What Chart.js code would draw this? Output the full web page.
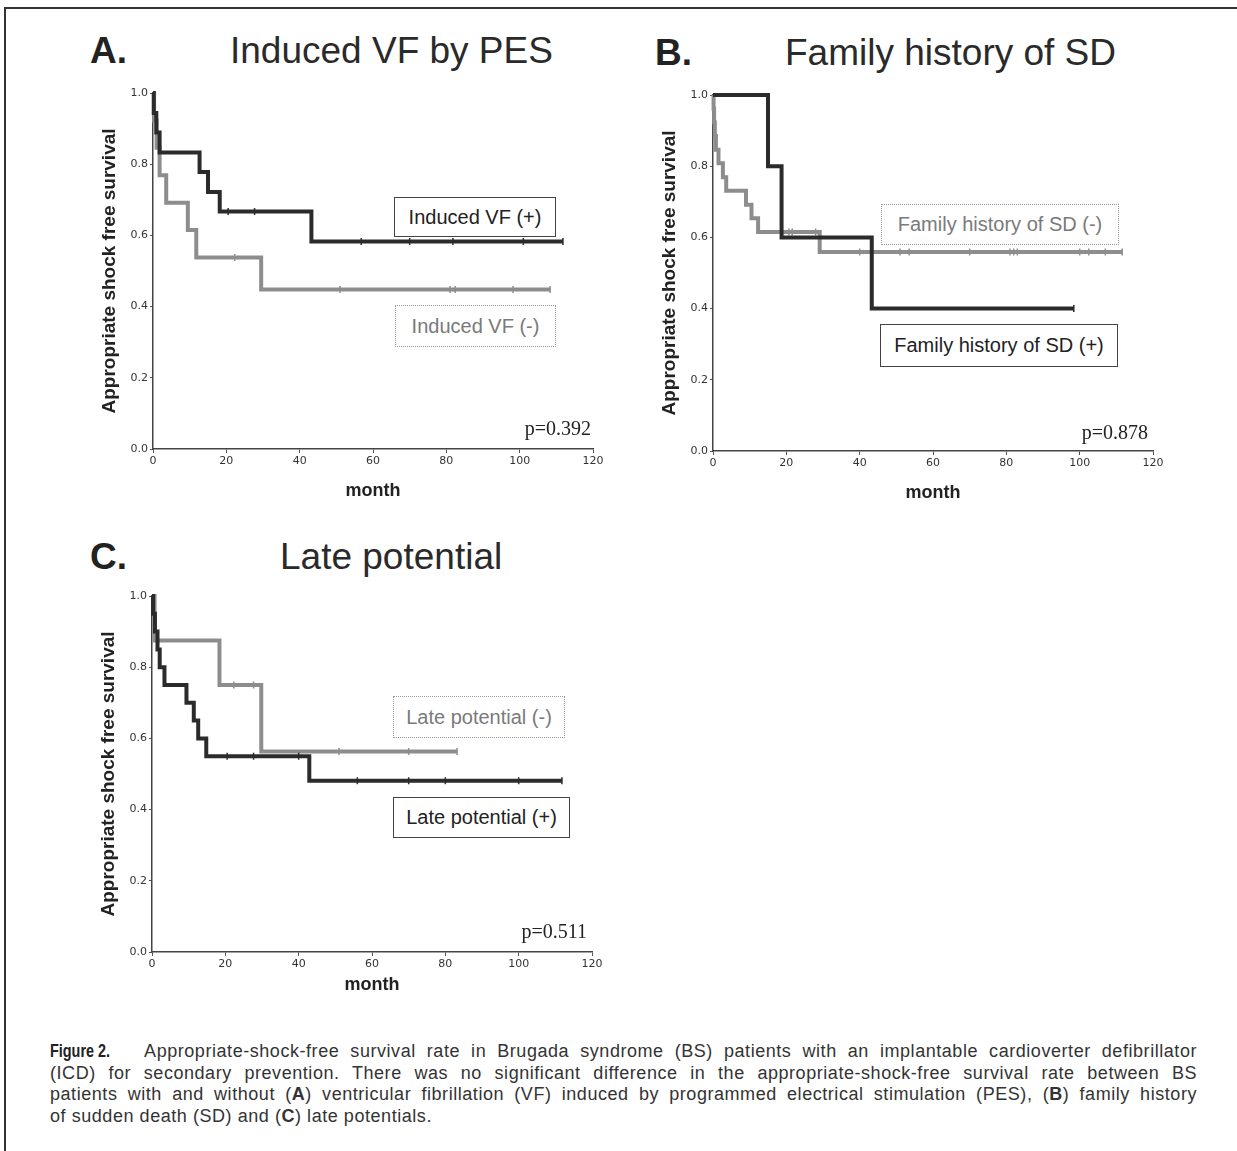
<!DOCTYPE html>
<html>
<head>
<meta charset="utf-8">
<script src="https://cdn.jsdelivr.net/npm/chart.js@4.4.0/dist/chart.umd.min.js"></script>
<style>
  body { margin: 0; width: 1237px; height: 1151px; background: #fff; position: relative; overflow: hidden;
         font-family: "Liberation Sans", Arial, sans-serif; color: #222; }
  .frame { position: absolute; left: 4px; top: 7px; width: 1240px; height: 1150px;
           border-top: 2px solid #333; border-left: 2px solid #333; }
  canvas { position: absolute; }
  .letter { position: absolute; font-size: 37px; font-weight: bold; line-height: 1; color: #222; }
  .title { position: absolute; font-size: 37px; line-height: 1; color: #2a2a2a; white-space: nowrap; }
  .box { position: absolute; box-sizing: border-box; font-size: 20px; display: flex;
         align-items: center; justify-content: center; white-space: nowrap; background: #fff; }
  .box.dark { border: 1px solid #444; color: #222; }
  .box.light { border: 1px dotted #999; color: #7a7a7a; }
  .pval { position: absolute; font-family: "Liberation Serif", "Times New Roman", serif; font-size: 20px;
          line-height: 1; text-align: right; color: #222; }
  .caption { position: absolute; left: 50px; top: 1041px; width: 1147px; font-size: 18px;
             letter-spacing: 0.55px; line-height: 21.5px; color: #333; }
  .caption div { text-align: justify; text-align-last: justify; white-space: nowrap; }
  .caption div.last { text-align-last: left; }
  .caption .fig { display: inline-block; font-weight: bold; color: #222; letter-spacing: 0;
                  transform: scaleX(0.8); transform-origin: left center; margin-right: 9px; }
</style>
</head>
<body>
<div class="frame"></div>

<div class="letter" style="left:90px;top:32px">A.</div>
<div class="title" style="left:230px;top:32px">Induced VF by PES</div>
<div class="letter" style="left:655px;top:34px">B.</div>
<div class="title" style="left:785px;top:34px">Family history of SD</div>
<div class="letter" style="left:90px;top:538px">C.</div>
<div class="title" style="left:280px;top:538px">Late potential</div>

<canvas id="chartA" width="530" height="430" style="left:90px;top:80px"></canvas>
<canvas id="chartB" width="530" height="430" style="left:650px;top:82px"></canvas>
<canvas id="chartC" width="530" height="430" style="left:89px;top:583px"></canvas>

<div class="box dark"  style="left:394px;top:197px;width:162px;height:40px">Induced VF (+)</div>
<div class="box light" style="left:395px;top:305px;width:161px;height:42px">Induced VF (-)</div>
<div class="pval" style="left:491px;top:418px;width:100px">p=0.392</div>

<div class="box light" style="left:881px;top:204px;width:238px;height:41px">Family history of SD (-)</div>
<div class="box dark"  style="left:880px;top:324px;width:238px;height:43px">Family history of SD (+)</div>
<div class="pval" style="left:1048px;top:422px;width:100px">p=0.878</div>

<div class="box light" style="left:393px;top:696px;width:172px;height:42px">Late potential (-)</div>
<div class="box dark"  style="left:393px;top:797px;width:177px;height:41px">Late potential (+)</div>
<div class="pval" style="left:487px;top:921px;width:100px">p=0.511</div>

<div class="caption">
  <div><span class="fig">Figure 2.</span> Appropriate-shock-free survival rate in Brugada syndrome (BS) patients with an implantable cardioverter defibrillator</div>
  <div>(ICD) for secondary prevention. There was no significant difference in the appropriate-shock-free survival rate between BS</div>
  <div>patients with and without (<b>A</b>) ventricular fibrillation (VF) induced by programmed electrical stimulation (PES), (<b>B</b>) family history</div>
  <div class="last">of sudden death (SD) and (<b>C</b>) late potentials.</div>
</div>

<script>
// axis ticks
const monthTicks = [0, 20, 40, 60, 80, 100, 120];
const survivalTicks = [0, 0.2, 0.4, 0.6, 0.8, 1.0];

// A. Induced VF by PES
const vfPosMonths   = [0, 0.2, 0.9, 1.8, 12.7, 15.0, 18.2, 43.2, 111.8];
const vfPosSurvival = [1, 0.944, 0.889, 0.833, 0.778, 0.722, 0.667, 0.583, 0.583];
const vfPosCensored = [20.5, 27.7, 56.8, 70, 81.8, 101, 111.8];
const vfNegMonths   = [0, 0.3, 1.0, 1.8, 3.6, 9.5, 11.8, 29.5, 108.3];
const vfNegSurvival = [1, 0.923, 0.846, 0.769, 0.692, 0.615, 0.538, 0.448, 0.448];
const vfNegCensored = [22.3, 51, 81, 82.4, 98.2, 108.3];

// B. Family history of SD
const fhPosMonths   = [0, 15.0, 18.7, 43.3, 98.4];
const fhPosSurvival = [1, 0.8, 0.6, 0.4, 0.4];
const fhPosCensored = [98.4];
const fhNegMonths   = [0, 0.15, 0.3, 0.5, 0.8, 1.5, 2.7, 3.6, 9.0, 10.5, 12.3, 29.1, 111.6];
const fhNegSurvival = [1, 0.962, 0.923, 0.885, 0.846, 0.808, 0.769, 0.731, 0.692, 0.654, 0.615, 0.559, 0.559];
const fhNegCensored = [20.7, 21.6, 28, 40, 51, 53.5, 70, 81, 82, 83, 100, 102.5, 107, 111.6];

// C. Late potential
const lpPosMonths   = [0, 0.3, 0.8, 1.5, 2.1, 3.4, 9.4, 11.4, 12.6, 14.8, 42.9, 111.8];
const lpPosSurvival = [1, 0.95, 0.90, 0.85, 0.80, 0.75, 0.70, 0.65, 0.60, 0.55, 0.481, 0.481];
const lpPosCensored = [20.5, 27.7, 40, 56, 70, 80, 100, 111.8];
const lpNegMonths   = [0, 0.7, 18.4, 29.8, 83.2];
const lpNegSurvival = [1, 0.875, 0.75, 0.563, 0.563];
const lpNegCensored = [22.3, 27.7, 51, 70, 83.2];

const DARK = '#2b2b2b';
const LIGHT = '#8d8d8d';

// survival value in force at time t (for placing censor ticks on the curve)
function survivalAt(months, surv, t) {
  let s = surv[0];
  for (let i = 0; i < months.length; i++) if (months[i] <= t) s = surv[i];
  return s;
}

function curve(months, surv, color) {
  return {
    data: months.map((m, i) => ({ x: m, y: surv[i] })),
    borderColor: color, borderWidth: 4, stepped: 'before', tension: 0,
    pointRadius: 0, fill: false, clip: false, borderCapStyle: 'butt'
  };
}

function censorMarks(months, surv, censored, color) {
  return {
    data: censored.map(t => ({ x: t, y: survivalAt(months, surv, t) })),
    showLine: false, pointStyle: 'line', rotation: 90, pointRadius: 3.5,
    pointBorderWidth: 1.5, pointBorderColor: color, borderColor: color, clip: false
  };
}

function makePanel(id, datasets, monthPad) {
  const ctx = document.getElementById(id).getContext('2d');
  return new Chart(ctx, {
    type: 'line',
    data: { datasets },
    options: {
      responsive: false,
      animation: false,
      layout: { padding: { top: 13, right: 27, left: 0, bottom: 0 } },
      plugins: { legend: { display: false }, tooltip: { enabled: false } },
      scales: {
        x: {
          type: 'linear', min: 0, max: 120,
          afterBuildTicks: s => { s.ticks = monthTicks.map(v => ({ value: v })); },
          afterFit: s => { s.height = 61; },
          ticks: { font: { family: 'DejaVu Sans', size: 11 }, color: '#333', padding: 2, maxRotation: 0 },
          grid: { drawOnChartArea: false, tickLength: 4, color: '#555' },
          border: { color: '#444', width: 1.5 },
          title: { display: true, text: 'month', color: '#222',
                   font: { family: 'Liberation Sans', size: 18, weight: 'bold' },
                   padding: { top: 0, bottom: monthPad } }
        },
        y: {
          min: 0, max: 1,
          afterBuildTicks: s => { s.ticks = survivalTicks.map(v => ({ value: v })); },
          afterFit: s => { s.width = 63; },
          ticks: { font: { family: 'DejaVu Sans', size: 11 }, color: '#333', padding: 2,
                   callback: v => v.toFixed(1) },
          grid: { drawOnChartArea: false, tickLength: 3, color: '#555' },
          border: { color: '#444', width: 1.5 },
          title: { display: true, text: 'Appropriate shock free survival', color: '#222',
                   font: { family: 'Liberation Sans', size: 19, weight: 'bold' },
                   padding: { top: 8, bottom: 0 } }
        }
      }
    }
  });
}

makePanel('chartA', [
  curve(vfPosMonths, vfPosSurvival, DARK),
  censorMarks(vfPosMonths, vfPosSurvival, vfPosCensored, DARK),
  curve(vfNegMonths, vfNegSurvival, LIGHT),
  censorMarks(vfNegMonths, vfNegSurvival, vfNegCensored, LIGHT)
], 8);

makePanel('chartB', [
  curve(fhPosMonths, fhPosSurvival, DARK),
  censorMarks(fhPosMonths, fhPosSurvival, fhPosCensored, DARK),
  curve(fhNegMonths, fhNegSurvival, LIGHT),
  censorMarks(fhNegMonths, fhNegSurvival, fhNegCensored, LIGHT)
], 8);

makePanel('chartC', [
  curve(lpPosMonths, lpPosSurvival, DARK),
  censorMarks(lpPosMonths, lpPosSurvival, lpPosCensored, DARK),
  curve(lpNegMonths, lpNegSurvival, LIGHT),
  censorMarks(lpNegMonths, lpNegSurvival, lpNegCensored, LIGHT)
], 17);
</script>
</body>
</html>
